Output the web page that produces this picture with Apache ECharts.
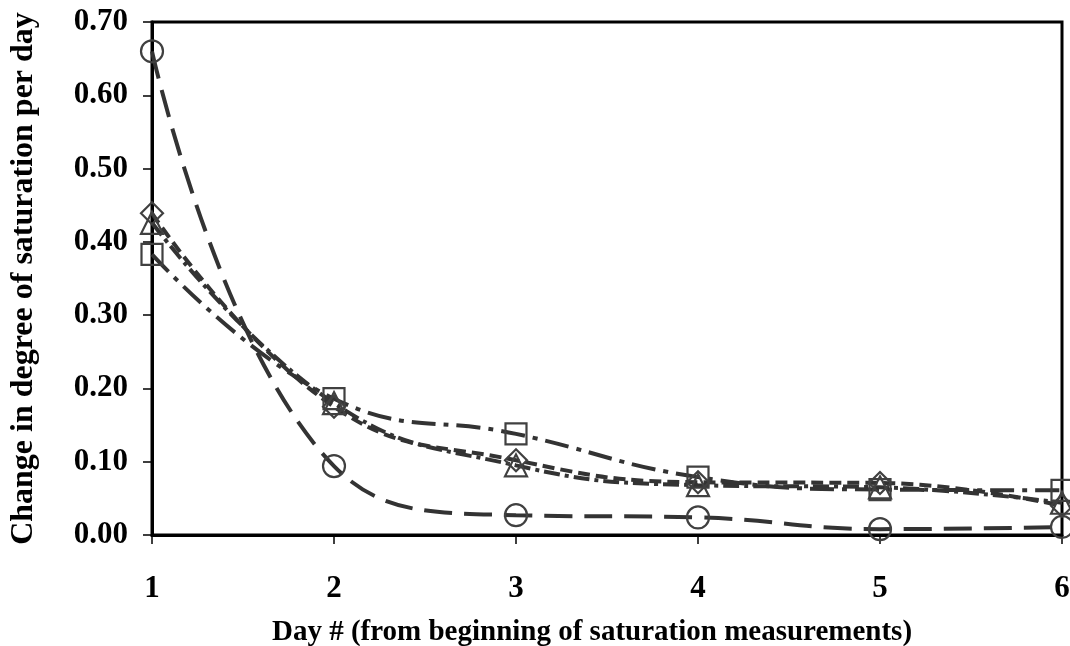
<!DOCTYPE html>
<html>
<head>
<meta charset="utf-8">
<script src="https://cdn.jsdelivr.net/npm/echarts@6/dist/echarts.min.js"></script>
<style>
  html, body { margin: 0; padding: 0; background: #fff; }
  #chart { width: 1070px; height: 646px; }
</style>
</head>
<body>
<div id="chart"></div>
<script>
// day numbers
const days = [1, 2, 3, 4, 5, 6]
// change in degree of saturation per day, one list per marker
const circleVals = [0.66, 0.094, 0.027, 0.024, 0.008, 0.011]
const diamondVals = [0.439, 0.175, 0.102, 0.072, 0.071, 0.040]
const triangleVals = [0.426, 0.180, 0.095, 0.068, 0.065, 0.044]
const squareVals = [0.383, 0.186, 0.138, 0.079, 0.062, 0.061]
const yTicks = [0, 0.1, 0.2, 0.3, 0.4, 0.5, 0.6, 0.7]

const font = "'Liberation Serif', 'Times New Roman', serif"
const lineColor = '#333333'

function pair(vals) {
  return days.map((d, i) => [d, vals[i]])
}

function makeSeries(name, vals, symbol, size, dash) {
  return {
    name: name,
    type: 'line',
    data: pair(vals),
    smooth: 0.45,
    symbol: symbol,
    symbolSize: size,
    showAllSymbol: true,
    lineStyle: { color: lineColor, width: 4, type: dash },
    itemStyle: { color: 'rgba(255,255,255,0)', borderColor: '#404040', borderWidth: 2.2 },
    emphasis: { disabled: true },
    z: 3
  }
}

const chart = echarts.init(document.getElementById('chart'))
chart.setOption({
  animation: false,
  backgroundColor: '#fff',
  grid: {
    left: 152, right: 8, top: 22, bottom: 111,
    containLabel: false,
    outerBoundsMode: 'none',
    show: true, borderColor: '#000', borderWidth: 3, backgroundColor: 'transparent'
  },
  xAxis: {
    type: 'value',
    min: 1, max: 6, interval: 1,
    name: 'Day # (from beginning of saturation measurements)',
    nameLocation: 'middle',
    nameGap: 83,
    nameTextStyle: { fontFamily: font, fontWeight: 'bold', fontSize: 29, color: '#000', padding: [0, 30, 0, 0] },
    axisLine: { show: true, lineStyle: { color: '#000', width: 3 } },
    axisTick: { show: true, inside: false, length: 9, lineStyle: { color: '#000', width: 1.5 } },
    axisLabel: { fontFamily: font, fontWeight: 'bold', fontSize: 31, color: '#000', margin: 38 },
    splitLine: { show: false }
  },
  yAxis: {
    type: 'value',
    min: 0, max: 0.7, interval: 0.1,
    name: 'Change in degree of saturation per day',
    nameLocation: 'middle',
    nameGap: 112,
    nameTextStyle: { fontFamily: font, fontWeight: 'bold', fontSize: 32, color: '#000' },
    axisLine: { show: true, lineStyle: { color: '#000', width: 3 } },
    axisTick: { show: true, inside: false, length: 9, lineStyle: { color: '#000', width: 1.5 } },
    axisLabel: {
      fontFamily: font, fontWeight: 'bold', fontSize: 31, color: '#000', margin: 24,
      formatter: v => yTicks.some(t => Math.abs(t - v) < 1e-9) ? v.toFixed(2) : ''
    },
    splitLine: { show: false }
  },
  series: [
    makeSeries('circle', circleVals, 'circle', 22, [28, 12]),
    makeSeries('diamond', diamondVals, 'diamond', 22, [12, 6]),
    makeSeries('triangle', triangleVals, 'triangle', 22, [16, 5, 4, 5]),
    makeSeries('square', squareVals, 'rect', 21, [24, 8, 5, 8])
  ]
})
</script>
</body>
</html>
